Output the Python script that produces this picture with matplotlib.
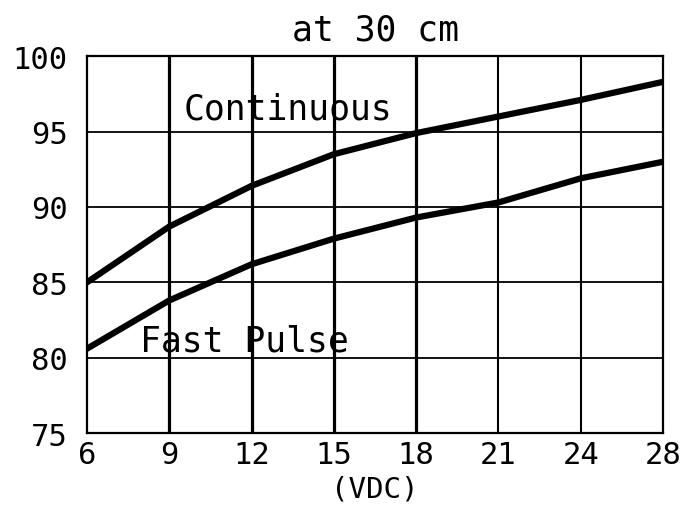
import matplotlib.pyplot as plt

# data
voltage = ['6', '9', '12', '15', '18', '21', '24', '28']
continuous = [85.0, 88.7, 91.4, 93.5, 94.9, 96.0, 97.1, 98.3]
fast_pulse = [80.6, 83.8, 86.2, 87.9, 89.3, 90.3, 91.9, 93.0]
y_ticks = [75, 80, 85, 90, 95, 100]

plt.rcParams['font.family'] = ['DejaVu Sans Mono']

fig = plt.figure(figsize=(6.9, 5.06), dpi=100)
ax = fig.add_axes([0.126, 0.142, 0.835, 0.745])

pos = list(range(len(voltage)))

# grid: heavier verticals on the left half, like the original
for i in pos[1:-1]:
    lw = 2.3 if i <= 4 else 1.5
    ax.axvline(i, color='black', linewidth=lw, zorder=1)
for y in y_ticks[1:-1]:
    ax.axhline(y, color='black', linewidth=1.3, zorder=1)

ax.plot(pos, continuous, color='black', linewidth=4.5, zorder=3)
ax.plot(pos, fast_pulse, color='black', linewidth=4.5, zorder=3)

ax.text(1.17, 95.9, 'Continuous', fontsize=25, zorder=2)
ax.text(0.65, 80.5, 'Fast Pulse', fontsize=25, zorder=2)

ax.set_xlim(0, len(voltage) - 1)
ax.set_ylim(75, 100)
ax.set_xticks(pos)
ax.set_xticklabels(voltage)
ax.set_yticks(y_ticks)
ax.tick_params(length=0, labelsize=22, pad=5)
ax.tick_params(axis='y', pad=14)
for s in ax.spines.values():
    s.set_linewidth(1.6)

ax.set_title('at 30 cm', fontsize=25, pad=12)
fig.text(0.543, 0.004, '(VDC)', fontsize=21, ha='center', va='bottom')

fig.savefig('out.png', dpi=100)
